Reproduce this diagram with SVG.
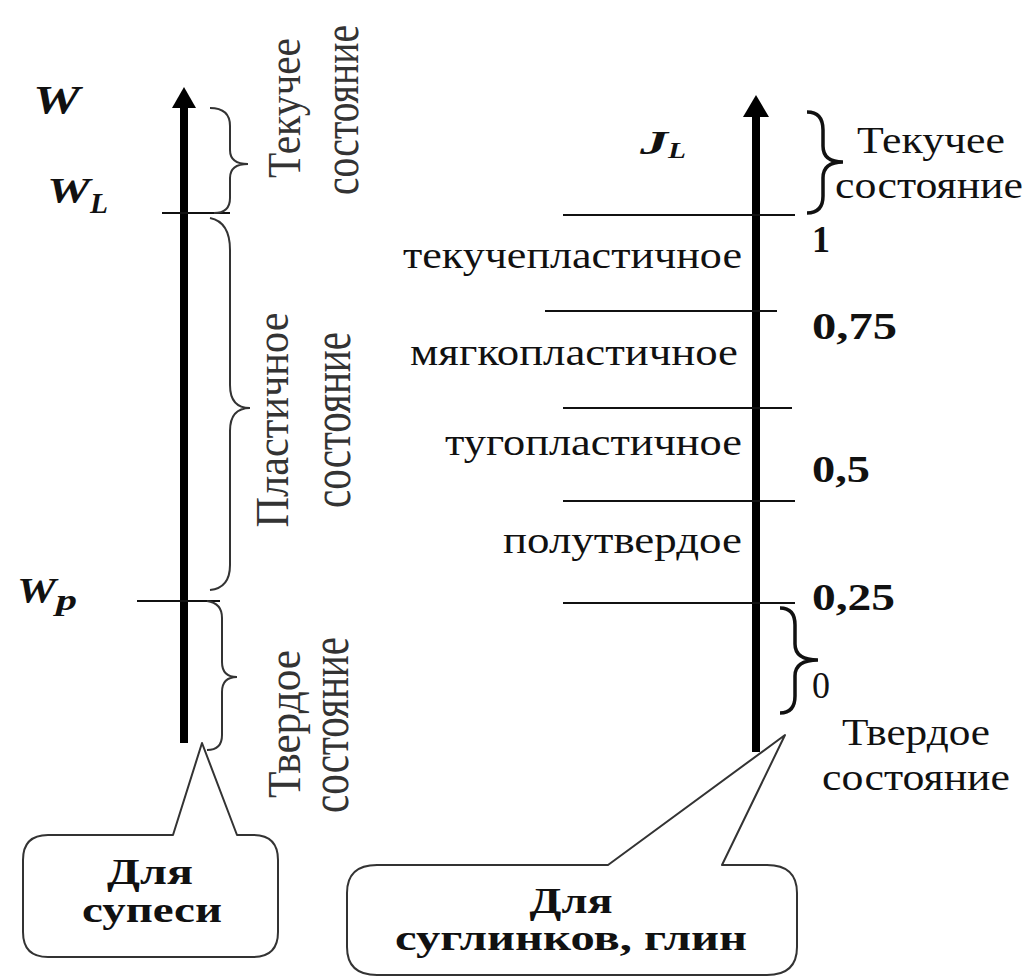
<svg xmlns="http://www.w3.org/2000/svg" width="1027" height="978" viewBox="0 0 1027 978">
<style>
.lbl{font-family:"Liberation Serif","Times New Roman",serif;font-size:37px;fill:#111}
.rot{font-family:"Liberation Serif","Times New Roman",serif;fill:#333;text-anchor:middle}
.num{font-family:"Liberation Serif","Times New Roman",serif;font-weight:bold;font-size:38px;fill:#111}
.sym{font-family:"Liberation Serif","Times New Roman",serif;font-weight:bold;font-style:italic;fill:#111}
.call{font-family:"Liberation Serif","Times New Roman",serif;font-weight:bold;font-size:36px;fill:#111;text-anchor:middle}
.tick{stroke:#111;stroke-width:2;fill:none}
.brace{fill:none;stroke:#333;stroke-width:2}
.braceB{fill:none;stroke:#111;stroke-width:3.5}
.box{fill:#fff;stroke:#333;stroke-width:2;stroke-linejoin:round}
</style>
<rect width="1027" height="978" fill="#fff"/>

<g id="connectors">
  <line x1="184" y1="743" x2="184" y2="104" stroke="#000" stroke-width="8"/>
  <polygon points="184,87 172,108 196,108" fill="#000"/>
  <line x1="756" y1="752" x2="756" y2="113" stroke="#000" stroke-width="8"/>
  <polygon points="756,95 743,117 769,117" fill="#000"/>
  <line class="tick" x1="162" y1="213" x2="230" y2="213"/>
  <line class="tick" x1="137" y1="601" x2="220" y2="601"/>
  <line class="tick" x1="563" y1="215" x2="795" y2="215"/>
  <line class="tick" x1="545" y1="311" x2="777" y2="311"/>
  <line class="tick" x1="563" y1="408" x2="792" y2="408"/>
  <line class="tick" x1="563" y1="501" x2="795" y2="501"/>
  <line class="tick" x1="563" y1="603" x2="795" y2="603"/>
  <path class="brace" d="M210 108 Q230 108 230 126 L230 150 Q230 164 248 164 Q230 164 230 178 L230 198 Q230 213 214 213"/>
  <path class="brace" stroke="#666" d="M210 218 Q230 222 230 250 L230 385 Q230 408 250 408 Q230 408 230 431 L230 565 Q230 588 210 590"/>
  <path class="brace" d="M207 601 Q222 603 222 618 L222 662 Q222 677 237 677 Q222 677 222 692 L222 735 Q222 750 207 750"/>
  <path class="braceB" d="M807 112 Q823 112 823 130 L823 146 Q823 162 843 162 Q823 162 823 178 L823 196 Q823 213 807 213"/>
  <path class="braceB" d="M780 608 Q795 608 795 625 L795 644 Q795 660 818 660 Q795 660 795 676 L795 696 Q795 713 780 713"/>
</g>

<g id="axis-left-labels">
  <text class="sym" x="33" y="113" font-size="39" textLength="47" lengthAdjust="spacingAndGlyphs">W</text>
  <text class="sym" x="47" y="203" font-size="35" textLength="43" lengthAdjust="spacingAndGlyphs">W</text>
  <text class="sym" x="90" y="213" font-size="30" textLength="18" lengthAdjust="spacingAndGlyphs">L</text>
  <text class="sym" x="17" y="603" font-size="35" textLength="39" lengthAdjust="spacingAndGlyphs">W</text>
  <text class="sym" x="56" y="610" font-size="30" textLength="21" lengthAdjust="spacingAndGlyphs">p</text>
</g>

<g id="state-left-fluid">
  <text class="rot" font-size="46" transform="translate(300,108) rotate(-90)" textLength="140" lengthAdjust="spacingAndGlyphs">Текучее</text>
  <text class="rot" font-size="50" transform="translate(358,110) rotate(-90)" textLength="170" lengthAdjust="spacingAndGlyphs">состояние</text>
</g>
<g id="state-left-plastic">
  <text class="rot" font-size="46" transform="translate(288,420) rotate(-90)" textLength="215" lengthAdjust="spacingAndGlyphs">Пластичное</text>
  <text class="rot" font-size="54" transform="translate(350,420) rotate(-90)" textLength="176" lengthAdjust="spacingAndGlyphs">состояние</text>
</g>
<g id="state-left-solid">
  <text class="rot" font-size="46" transform="translate(300,724) rotate(-90)" textLength="148" lengthAdjust="spacingAndGlyphs">Твердое</text>
  <text class="rot" font-size="54" transform="translate(348,725) rotate(-90)" textLength="176" lengthAdjust="spacingAndGlyphs">состояние</text>
</g>

<g id="callout-left">
  <path class="box" d="M173 835 L202 743 L237 835 L253 835 Q278 835 278 860 L278 932 Q278 957 253 957 L48 957 Q23 957 23 932 L23 860 Q23 835 48 835 Z"/>
  <text class="call" x="150" y="884" textLength="86" lengthAdjust="spacingAndGlyphs">Для</text>
  <text class="call" x="152" y="922" textLength="140" lengthAdjust="spacingAndGlyphs">супеси</text>
</g>

<g id="axis-right-labels">
  <text class="sym" x="640" y="154" font-size="34" textLength="28" lengthAdjust="spacingAndGlyphs">J</text>
  <text class="sym" x="668" y="158" font-size="24" textLength="18" lengthAdjust="spacingAndGlyphs">L</text>
  <text class="num" x="812" y="252" textLength="18" lengthAdjust="spacingAndGlyphs">1</text>
  <text class="num" x="812" y="339" textLength="85" lengthAdjust="spacingAndGlyphs">0,75</text>
  <text class="num" x="812" y="482" textLength="58" lengthAdjust="spacingAndGlyphs">0,5</text>
  <text class="num" x="812" y="610" textLength="83" lengthAdjust="spacingAndGlyphs">0,25</text>
  <text class="lbl" x="812" y="698" font-size="32" textLength="18" lengthAdjust="spacingAndGlyphs">0</text>
</g>

<g id="zone-fluid-plastic">
  <text class="lbl" x="403" y="268" textLength="339" lengthAdjust="spacingAndGlyphs">текучепластичное</text>
</g>
<g id="zone-soft-plastic">
  <text class="lbl" x="410" y="365" textLength="328" lengthAdjust="spacingAndGlyphs">мягкопластичное</text>
</g>
<g id="zone-stiff-plastic">
  <text class="lbl" x="445" y="455" textLength="297" lengthAdjust="spacingAndGlyphs">тугопластичное</text>
</g>
<g id="zone-semisolid">
  <text class="lbl" x="503" y="553" textLength="239" lengthAdjust="spacingAndGlyphs">полутвердое</text>
</g>

<g id="state-right-fluid">
  <text class="lbl" x="857" y="153" font-size="35" textLength="148" lengthAdjust="spacingAndGlyphs">Текучее</text>
  <text class="lbl" x="835" y="198" font-size="35" textLength="188" lengthAdjust="spacingAndGlyphs">состояние</text>
</g>
<g id="state-right-solid">
  <text class="lbl" x="842" y="745" font-size="35" textLength="148" lengthAdjust="spacingAndGlyphs">Твердое</text>
  <text class="lbl" x="822" y="790" font-size="35" textLength="188" lengthAdjust="spacingAndGlyphs">состояние</text>
</g>

<g id="callout-right">
  <path class="box" d="M608 865 L785 735 L722 865 L767 865 Q797 865 797 893 L797 947 Q797 975 767 975 L377 975 Q347 975 347 947 L347 893 Q347 865 377 865 Z"/>
  <text class="call" x="571" y="913" textLength="83" lengthAdjust="spacingAndGlyphs">Для</text>
  <text class="call" x="571" y="950" textLength="352" lengthAdjust="spacingAndGlyphs">суглинков, глин</text>
</g>
</svg>
